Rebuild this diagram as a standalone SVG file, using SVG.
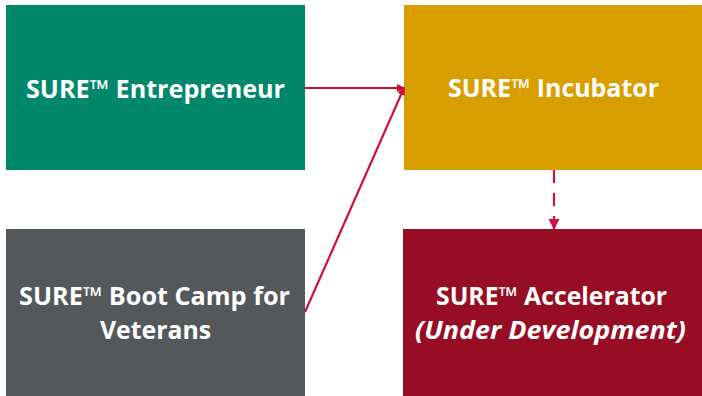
<svg xmlns="http://www.w3.org/2000/svg" width="702" height="396" viewBox="0 0 702 396">
<style>
.lbl{font-family:"Open Sans","Noto Sans","Liberation Sans",sans-serif;font-weight:bold;font-size:25px;fill:#ffffff;text-anchor:middle}
.it{font-style:italic}
.ln{fill:none;stroke-width:2.2}
</style>
<defs>
<marker id="ahA" markerWidth="8" markerHeight="8" refX="7" refY="4" orient="auto" markerUnits="userSpaceOnUse">
<path d="M0,0 L8,4 L0,8 Z" fill="#c8102e"/>
</marker>
<marker id="ahB" markerWidth="11" markerHeight="11" refX="10" refY="5.5" orient="auto" markerUnits="userSpaceOnUse">
<path d="M0,0 L11,5.5 L0,11 Z" fill="#d0103a"/>
</marker>
</defs>
<rect width="702" height="396" fill="#ffffff"/>
<g id="entrepreneur">
<rect x="6" y="5" width="299" height="165" fill="#00876c"/>
<text class="lbl" x="155.5" y="98" textLength="259" lengthAdjust="spacingAndGlyphs">SURE™ Entrepreneur</text>
</g>
<g id="incubator">
<rect x="404" y="5" width="298" height="165" fill="#d89e00"/>
<text class="lbl" x="553.5" y="97" textLength="211" lengthAdjust="spacingAndGlyphs">SURE™ Incubator</text>
</g>
<g id="bootcamp">
<rect x="6" y="229" width="299" height="167" fill="#54585a"/>
<text class="lbl" x="154.5" y="305" textLength="271" lengthAdjust="spacingAndGlyphs">SURE™ Boot Camp for</text>
<text class="lbl" x="155.5" y="339" textLength="111" lengthAdjust="spacingAndGlyphs">Veterans</text>
</g>
<g id="accelerator">
<rect x="403" y="229" width="299" height="167" fill="#970e24"/>
<text class="lbl" x="551.5" y="305" textLength="231" lengthAdjust="spacingAndGlyphs">SURE™ Accelerator</text>
<text class="lbl it" x="550.5" y="339" textLength="271" lengthAdjust="spacingAndGlyphs">(Under Development)</text>
</g>
<g id="connectors">
<line class="ln" x1="305" y1="88" x2="404" y2="88" stroke="#c8102e" marker-end="url(#ahA)"/>
<line class="ln" x1="305" y1="312" x2="404" y2="88" stroke="#d0103a" marker-end="url(#ahA)"/>
<line class="ln" x1="554" y1="170" x2="554" y2="229" stroke="#d0103a" stroke-width="2.5" stroke-dasharray="13,10" marker-end="url(#ahB)"/>
</g>
</svg>
